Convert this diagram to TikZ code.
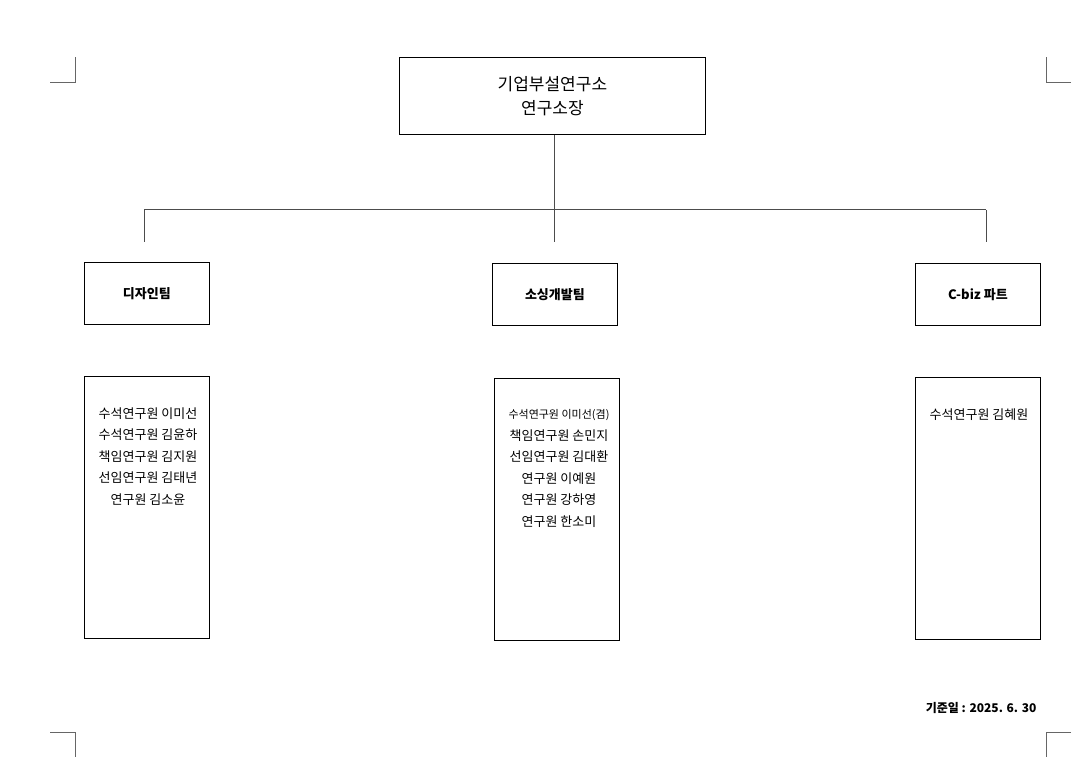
\documentclass[tikz,border=0pt]{standalone}
\usepackage{fontspec}
\setmainfont{Noto Sans CJK KR}
\begin{document}
\begin{tikzpicture}[x=1pt,y=-1pt,
  bx/.style={draw,line width=0.8pt,inner sep=0pt,anchor=north west},
  ln/.style={draw,line width=1pt,black!70},
  mk/.style={draw,black!60,line width=0.6pt},
  mem/.style={font=\fontsize{13}{21.5}\selectfont,align=center,anchor=north}]
\useasboundingbox (0,0) rectangle (1083,767);
\node[bx,minimum width=306pt,minimum height=77pt,font=\fontsize{17}{24}\selectfont,align=center] (top) at (399,57) {기업부설연구소\\연구소장};
\node[bx,minimum width=125pt,minimum height=62pt,font=\bfseries\fontsize{13}{16}\selectfont] (t1) at (84,262) {디자인팀};
\node[bx,minimum width=125pt,minimum height=62pt,font=\bfseries\fontsize{13}{16}\selectfont] (t2) at (492,263) {소싱개발팀};
\node[bx,minimum width=125pt,minimum height=62pt,font=\bfseries\fontsize{13}{16}\selectfont] (t3) at (915,263) {C-biz 파트};
\node[bx,minimum width=125pt,minimum height=262pt] (m1) at (84,376) {};
\node[bx,minimum width=125pt,minimum height=262pt] (m2) at (494,378) {};
\node[bx,minimum width=125pt,minimum height=262pt] (m3) at (915,377) {};
\node[mem] (m1t) at (148,404) {수석연구원 이미선\\수석연구원 김윤하\\책임연구원 김지원\\선임연구원 김태년\\연구원 김소윤};
\node[mem] (m2t) at (559,406) {{\fontsize{11}{21.5}\selectfont 수석연구원 이미선(겸)}\\책임연구원 손민지\\선임연구원 김대환\\연구원 이예원\\연구원 강하영\\연구원 한소미};
\node[mem] (m3t) at (979,405) {수석연구원 김혜원};
\coordinate (j) at (554,210);
\coordinate (jl) at (144,210);
\coordinate (jr) at (986,210);
\coordinate (dl) at (144,242);
\coordinate (dm) at (554,242);
\coordinate (dr) at (986,242);
\draw[ln] (top.south -| j) -- (j);
\draw[ln] (jl) -- (jr);
\draw[ln] (jl) -- (dl);
\draw[ln] (j) -- (dm);
\draw[ln] (jr) -- (dr);
\node[anchor=east,font=\bfseries\fontsize{12}{14}\selectfont] (date) at (1040,708) {기준일 : 2025. 6. 30};
\draw[mk] (50,82) -- (75,82) -- (75,57);
\draw[mk] (1071,82) -- (1046,82) -- (1046,57);
\draw[mk] (50,732) -- (75,732) -- (75,757);
\draw[mk] (1071,732) -- (1046,732) -- (1046,757);
\end{tikzpicture}
\end{document}
